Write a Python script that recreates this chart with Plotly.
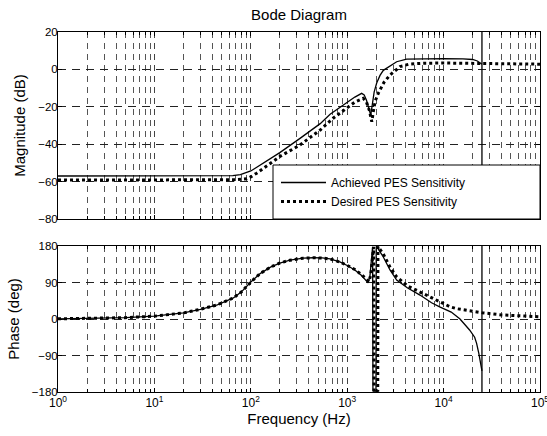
import plotly.graph_objects as go

# ---------------- data ----------------
freq_mag_ach = [1, 10, 30, 50, 65, 78, 90, 100, 110, 130, 160, 200, 324, 525, 665, 840, 988,
                1200, 1413, 1500, 1585, 1680, 1754, 1820, 1905, 2023, 2190, 2370, 2780, 3260,
                4140, 6300, 10000, 15850, 20000, 22400, 24000, 25000]
mag_ach = [-57.0, -57.0, -57.0, -57.0, -56.8, -56.3, -55.3, -54.3, -53.0, -50.6, -47.6, -44.5,
           -36.9, -29.0, -24.0, -20.2, -17.5, -14.8, -12.8, -13.6, -16.5, -20.5, -24.4, -19.0,
           -12.0, -7.3, -3.2, -0.5, 2.0, 4.1, 5.5, 5.8, 5.8, 5.6, 5.3, 4.5, 3.5, 2.7]

freq_mag_des = [1, 10, 30, 50, 70, 91, 100, 115, 140, 200, 324, 525, 720, 988, 1200, 1470,
                1585, 1700, 1800, 1860, 1950, 2100, 2400, 2780, 3160, 3530, 4470, 6300, 10000,
                25000, 40000, 100000]
mag_des = [-59.2, -59.2, -59.2, -59.2, -59.0, -58.5, -57.5, -55.5, -52.3, -46.6, -40.4, -32.4,
           -26.0, -20.8, -17.5, -15.5, -17.5, -22.0, -28.0, -23.0, -17.0, -12.8, -7.0, -3.0,
           -0.3, 1.5, 2.9, 3.3, 3.4, 3.2, 3.0, 2.8]

freq_ph_ach = [1, 2, 3, 5, 10, 20, 30, 45, 66, 80, 100, 125, 160, 200, 255, 350, 445, 550, 665,
               850, 1000, 1200, 1400, 1550, 1650, 1720, 1780, 1835, 1850, 1900, 1950, 1990,
               2000, 2055, 2370, 2780, 3260, 4200, 5690, 7500, 9100, 12000, 14800, 18600,
               21000, 22000, 23200, 24400, 25000]
ph_ach = [0.5, 1.2, 2, 3.3, 7, 15, 24, 35, 52, 67, 91, 112, 128, 138, 145, 150, 151, 150.5, 148,
          140, 132, 121, 108, 96, 89, 105, 140, 178, -178, -176, -177, -179,
          179, 176, 153, 121, 96, 77, 59, 40, 30, 17, 0, -27,
          -45, -60, -85, -122, -128]

freq_ph_des = [1, 2, 3, 5, 10, 20, 30, 45, 66, 80, 100, 125, 160, 200, 255, 350, 445, 550, 665,
               850, 1000, 1200, 1400, 1550, 1680, 1760, 1830, 1880, 1900, 1960, 2040, 2075,
               2085, 2100, 2370, 2780, 3260, 4200, 5690, 7500, 9100, 11700, 14000, 20000,
               25000, 40000, 60000, 100000]
ph_des = [0.5, 1.2, 2, 3.3, 7, 15, 24, 35, 52, 67, 91, 112, 128, 138, 145, 150, 151, 150.5, 148,
          140, 132, 122, 110, 99, 92, 110, 150, 178, -178, -175, -177, -179,
          179, 178, 160, 128, 104, 82, 67, 52, 43, 30, 25, 19,
          15.5, 10, 7.5, 5.5]

nyquist_hz = [25000, 25000]
mag_range = [-80, 20]
ph_range = [-180, 180]

series_names = ["Achieved PES Sensitivity", "Desired PES Sensitivity"]

x_major = [1, 10, 100, 1000, 10000, 100000]
x_major_text = ["10<sup>0</sup>", "10<sup>1</sup>", "10<sup>2</sup>", "10<sup>3</sup>",
                "10<sup>4</sup>", "10<sup>5</sup>"]
x_minor = [m * d for d in [1, 10, 100, 1000, 10000] for m in range(2, 10)]
mag_ticks = [20, 0, -20, -40, -60, -80]
ph_ticks = [180, 90, 0, -90, -180]

# ---------------- figure ----------------
FONT = "Liberation Sans, Arial, Helvetica, sans-serif"
fig = go.Figure()

fig.add_trace(go.Scatter(x=freq_mag_ach, y=mag_ach, mode="lines", name=series_names[0],
                         line=dict(color="black", width=1.3), xaxis="x", yaxis="y"))
fig.add_trace(go.Scatter(x=freq_mag_des, y=mag_des, mode="lines", name=series_names[1],
                         line=dict(color="black", width=3, dash="3px,3px"), xaxis="x", yaxis="y"))
fig.add_trace(go.Scatter(x=nyquist_hz, y=mag_range, mode="lines", showlegend=False,
                         line=dict(color="black", width=1.3), xaxis="x", yaxis="y"))

fig.add_trace(go.Scatter(x=freq_ph_ach, y=ph_ach, mode="lines", showlegend=False,
                         line=dict(color="black", width=1.3), xaxis="x2", yaxis="y2"))
fig.add_trace(go.Scatter(x=freq_ph_des, y=ph_des, mode="lines", showlegend=False,
                         line=dict(color="black", width=3, dash="3px,3px"), xaxis="x2", yaxis="y2"))
fig.add_trace(go.Scatter(x=nyquist_hz, y=ph_range, mode="lines", showlegend=False,
                         line=dict(color="black", width=1.3), xaxis="x2", yaxis="y2"))

W, H = 547, 436
L, R, T, B = 58, 7, 32, 44
plot_h = H - T - B
top_dom = [(392 - 219) / plot_h, 1.0]
bot_dom = [0.0, (392 - 246) / plot_h]

xcommon = dict(type="log", range=[-0.0002, 5.0002], showline=True, linecolor="black", linewidth=1,
               mirror="allticks", ticks="inside", ticklen=4, tickcolor="black",
               tickmode="array", tickvals=x_major, ticktext=x_major_text,
               ticklabeloverflow="allow", automargin=False,
               showgrid=True, gridcolor="#444", gridwidth=1, griddash="6px,5px",
               zeroline=False,
               minor=dict(tickmode="array", tickvals=x_minor, ticks="inside", ticklen=3,
                          tickcolor="black", showgrid=True, gridcolor="#555", gridwidth=1,
                          griddash="6px,5px"),
               tickfont=dict(family=FONT, size=12, color="black"))
ycommon = dict(showline=True, linecolor="black", linewidth=1, mirror="allticks",
               ticks="inside", ticklen=4, tickcolor="black", showgrid=True,
               gridcolor="#222", gridwidth=1, griddash="8px,6px", zeroline=False,
               ticklabelstandoff=-3, automargin=False,
               tickfont=dict(family=FONT, size=11.5, color="black"))

fig.update_layout(
    width=W, height=H,
    margin=dict(l=L, r=R, t=T, b=B, autoexpand=False),
    paper_bgcolor="white", plot_bgcolor="white",
    font=dict(family=FONT, color="black", size=12),
    title=dict(text="Bode Diagram", x=0.5, xref="paper", y=1 - 15 / H, yref="container",
               xanchor="center", yanchor="middle", font=dict(family=FONT, size=15, color="black")),
    xaxis=dict(**xcommon, anchor="y", showticklabels=False),
    xaxis2=dict(**xcommon, anchor="y2",
                title=dict(text="Frequency (Hz)", font=dict(family=FONT, size=15, color="black"),
                           standoff=3)),
    yaxis=dict(**ycommon, domain=top_dom, range=mag_range, tickvals=mag_ticks,
               title=dict(text="Magnitude (dB)", font=dict(family=FONT, size=15, color="black"),
                          standoff=8)),
    yaxis2=dict(**ycommon, domain=bot_dom, range=ph_range, tickvals=ph_ticks,
                title=dict(text="Phase (deg)", font=dict(family=FONT, size=15, color="black"),
                           standoff=8)),
    showlegend=True,
    legend=dict(x=(276 - L) / (W - L - R), y=(392 - 168) / plot_h, xanchor="left", yanchor="top",
                bgcolor="rgba(0,0,0,0)", borderwidth=0, itemwidth=45,
                font=dict(family=FONT, size=12, color="black"), tracegroupgap=0),
    shapes=[dict(type="rect", xref="paper", yref="paper",
                 x0=(273 - L) / (W - L - R), x1=1.0, y0=top_dom[0], y1=(392 - 165) / plot_h,
                 line=dict(color="black", width=1), fillcolor="white", layer="above")],
)

fig.write_html("out.html")
